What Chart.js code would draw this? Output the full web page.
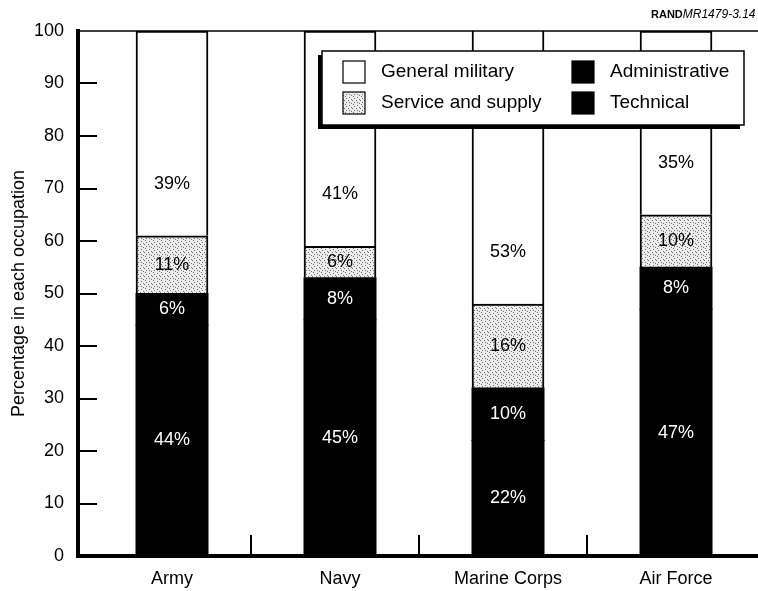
<!DOCTYPE html>
<html lang="en">
<head>
  <meta charset="UTF-8" />
  <title>Occupation mix by service</title>
  <script src="https://cdn.jsdelivr.net/npm/chart.js"></script>
  <style>
    html, body { margin: 0; padding: 0; background: #fff; overflow: hidden; }
    #wrap { width: 800px; height: 591px; }
  </style>
</head>
<body>
  <div id="wrap"><canvas id="occChart" width="800" height="591"></canvas></div>

  <script>
const services = ['Army', 'Navy', 'Marine Corps', 'Air Force'];
const technical = [44, 45, 22, 47];
const administrative = [6, 8, 10, 8];
const serviceSupply = [11, 6, 16, 10];
const generalMilitary = [39, 41, 53, 35];
const yTicks = [0, 10, 20, 30, 40, 50, 60, 70, 80, 90, 100];

const FONT = "'Liberation Sans', Arial, Helvetica, sans-serif";
Chart.defaults.font.family = FONT;
Chart.defaults.color = '#000';

// grey stipple used for "Service and supply"
function stipple() {
  const c = document.createElement('canvas');
  c.width = 8; c.height = 8;
  const g = c.getContext('2d');
  g.fillStyle = '#ededed';
  g.fillRect(0, 0, 8, 8);
  g.fillStyle = '#707070';
  [[1,0],[5,1],[2,2],[7,3],[0,4],[4,4],[5,6],[2,6],[7,7]].forEach(p => g.fillRect(p[0], p[1], 1, 1));
  return g.createPattern(c, 'repeat');
}
const dots = stipple();

const toPoints = arr => arr.map((v, i) => ({ x: i, y: v }));

const frame = {
  id: 'frame',
  afterDatasetsDraw(chart) {
    const { ctx, chartArea: a, scales: { x, y } } = chart;
    ctx.save();
    ctx.strokeStyle = '#000';
    ctx.lineWidth = 1.5;
    ctx.beginPath();
    ctx.moveTo(a.left, a.top);
    ctx.lineTo(a.right, a.top);
    ctx.stroke();
    ctx.lineWidth = 2;
    yTicks.slice(1, -1).forEach(v => {
      const py = Math.round(y.getPixelForValue(v));
      ctx.beginPath();
      ctx.moveTo(a.left, py);
      ctx.lineTo(a.left + 19, py);
      ctx.stroke();
    });
    // short marks between the services
    for (let i = 0; i < services.length - 1; i++) {
      const px = Math.round(x.getPixelForValue(i + 0.47));
      ctx.beginPath();
      ctx.moveTo(px, a.bottom);
      ctx.lineTo(px, a.bottom - 21);
      ctx.stroke();
    }
    ctx.restore();
  }
};

const segmentLabels = {
  id: 'segmentLabels',
  afterDatasetsDraw(chart) {
    const ctx = chart.ctx;
    ctx.save();
    ctx.font = '18px ' + FONT;
    ctx.textAlign = 'center';
    ctx.textBaseline = 'middle';
    chart.data.datasets.forEach((ds, di) => {
      chart.getDatasetMeta(di).data.forEach((bar, j) => {
        const p = bar.getProps(['x', 'y', 'base'], true);
        const ty = ds.labelAbove ? p.base - 52 : (p.y + p.base) / 2;
        ctx.fillStyle = ds.textColor;
        ctx.fillText(ds.data[j].y + '%', p.x, ty);
      });
    });
    ctx.restore();
  }
};

const boxLegend = {
  id: 'boxLegend',
  afterDraw(chart) {
    const ctx = chart.ctx;
    const bx = 322, by = 51, bw = 422, bh = 74;
    ctx.save();
    ctx.fillStyle = '#000';
    ctx.fillRect(bx - 4, by + 4, bw, bh);
    ctx.fillStyle = '#fff';
    ctx.fillRect(bx, by, bw, bh);
    ctx.strokeStyle = '#000';
    ctx.lineWidth = 1.5;
    ctx.strokeRect(bx, by, bw, bh);
    ctx.font = '19px ' + FONT;
    ctx.textBaseline = 'middle';
    const cols = [343, 572], rows = [61, 92];
    const order = chart.data.datasets.map((_, i) => i).reverse();
    order.forEach((di, k) => {
      const ds = chart.data.datasets[di];
      const sx = cols[Math.floor(k / 2)], sy = rows[k % 2];
      ctx.fillStyle = ds.backgroundColor;
      ctx.fillRect(sx, sy, 22, 22);
      ctx.lineWidth = 1.2;
      ctx.strokeRect(sx, sy, 22, 22);
      ctx.fillStyle = '#000';
      ctx.fillText(ds.label, sx + 38, sy + 11);
    });
    ctx.restore();
  }
};

const sourceTag = {
  id: 'sourceTag',
  afterDraw(chart) {
    const ctx = chart.ctx;
    ctx.save();
    ctx.fillStyle = '#000';
    ctx.textBaseline = 'alphabetic';
    ctx.font = 'bold 11px ' + FONT;
    ctx.fillText('RAND', 651, 18);
    const w = ctx.measureText('RAND').width;
    ctx.font = 'italic 12px ' + FONT;
    ctx.fillText('MR1479-3.14', 651 + w, 18);
    ctx.restore();
  }
};

new Chart(document.getElementById('occChart').getContext('2d'), {
  type: 'bar',
  data: {
    datasets: [
      { label: 'Technical', data: toPoints(technical), backgroundColor: '#000', textColor: '#fff', borderWidth: 0, inflateAmount: 0.5 },
      { label: 'Administrative', data: toPoints(administrative), backgroundColor: '#000', textColor: '#fff', borderWidth: 0, inflateAmount: 0.5 },
      { label: 'Service and supply', data: toPoints(serviceSupply), backgroundColor: dots, textColor: '#000' },
      { label: 'General military', data: toPoints(generalMilitary), backgroundColor: '#fff', textColor: '#000', labelAbove: true }
    ]
  },
  options: {
    responsive: false,
    animation: false,
    layout: { padding: { top: 31, left: 0, right: 0, bottom: 0 } },
    datasets: {
      bar: { barThickness: 72, borderColor: '#000', borderWidth: 2, borderSkipped: 'start' }
    },
    plugins: {
      legend: { display: false },
      tooltip: { enabled: false }
    },
    scales: {
      x: {
        type: 'linear',
        stacked: true,
        offset: false,
        min: -0.5595,
        max: 3.738,
        grid: { display: false },
        border: { display: true, width: 4, color: '#000' },
        afterBuildTicks: s => { s.ticks = services.map((_, i) => ({ value: i })); },
        afterFit: s => { s.height = 35; },
        ticks: {
          callback: v => services[v],
          font: { size: 18 },
          padding: 4,
          maxRotation: 0,
          autoSkip: false
        }
      },
      y: {
        stacked: true,
        min: 0,
        max: 100,
        grid: { display: false },
        border: { display: true, width: 4, color: '#000' },
        afterBuildTicks: s => { s.ticks = yTicks.map(v => ({ value: v })); },
        afterFit: s => { s.width = 78; },
        ticks: { font: { size: 18 }, padding: 6 },
        title: {
          display: true,
          text: 'Percentage in each occupation',
          font: { size: 18 },
          padding: { top: 8, bottom: 0 }
        }
      }
    }
  },
  plugins: [frame, segmentLabels, boxLegend, sourceTag]
});
  </script>
</body>
</html>
